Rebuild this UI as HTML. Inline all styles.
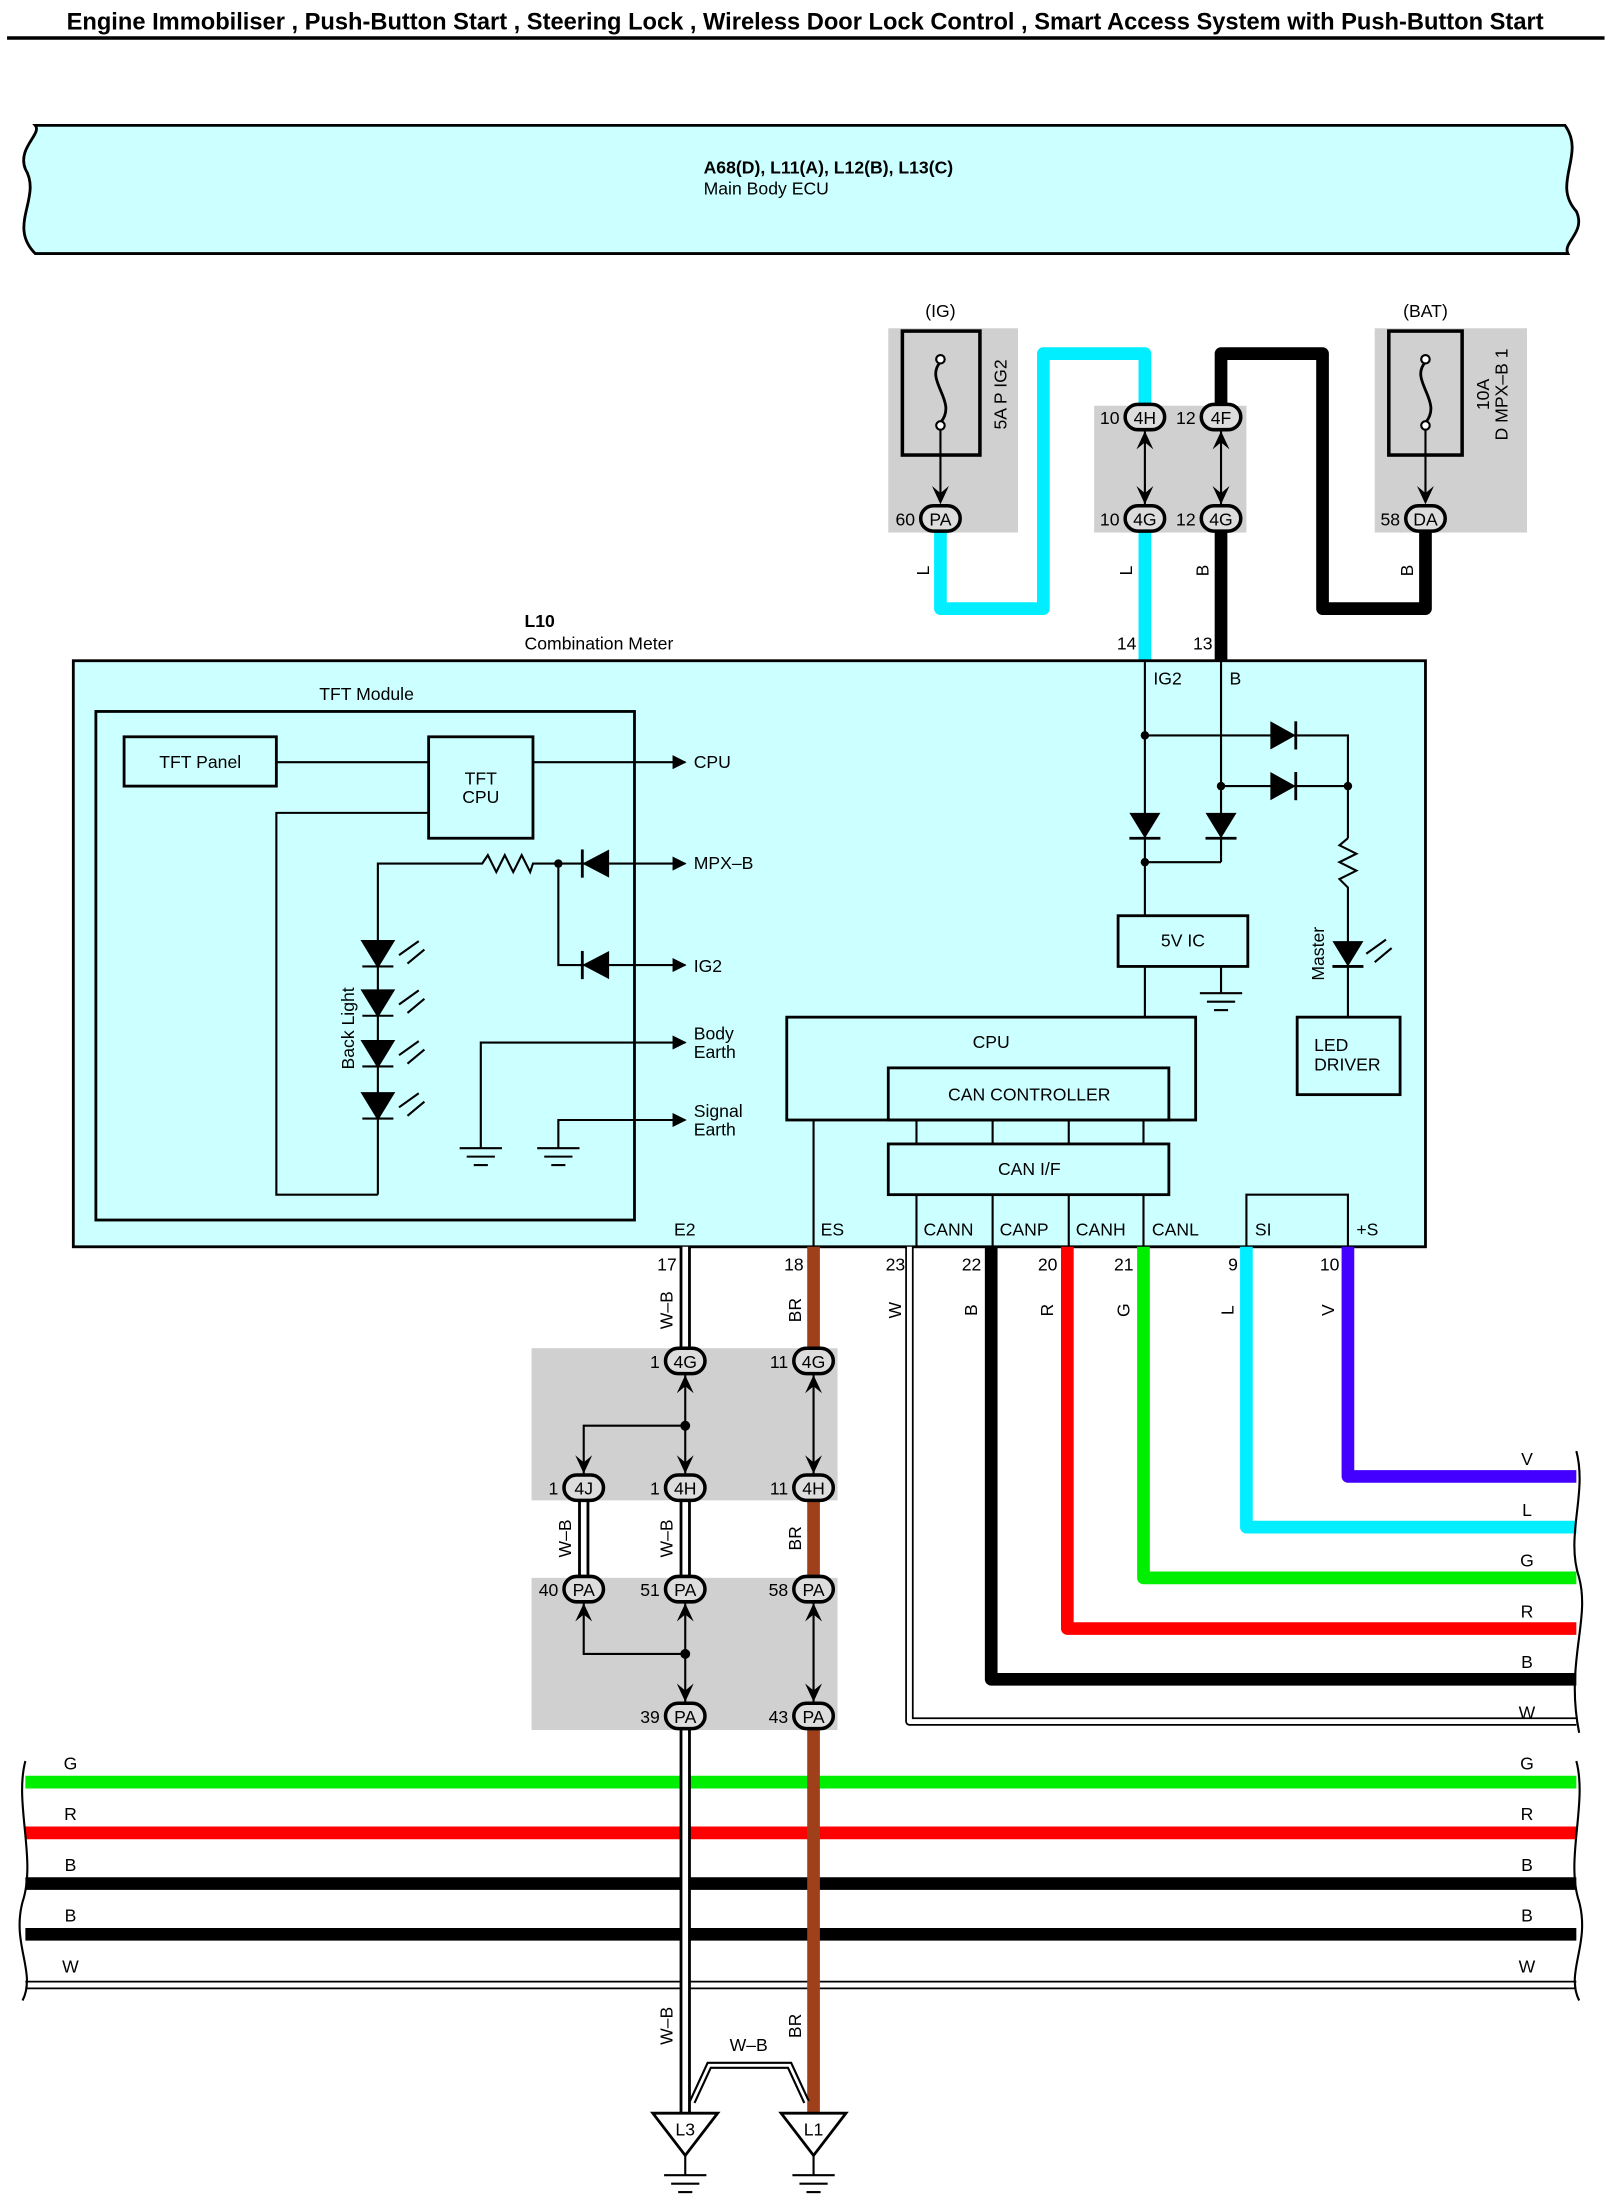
<!DOCTYPE html>
<html><head><meta charset="utf-8"><style>
html,body{margin:0;padding:0;background:#fff}
svg{display:block}
text{font-family:"Liberation Sans",sans-serif;font-size:12.5px;fill:#000}
.c{text-anchor:middle}
.r{text-anchor:end}
</style></head><body>
<svg width="1613" height="2209" viewBox="0 0 1144 1568" preserveAspectRatio="none" xmlns="http://www.w3.org/2000/svg">
<defs>
<marker id="ar" markerWidth="10" markerHeight="10" refX="9" refY="5" orient="auto" markerUnits="userSpaceOnUse"><path d="M0,0 L10,5 L0,10 Z" fill="#000"/></marker>
</defs>
<!-- title -->
<text x="571" y="21" class="c" style="font-size:16.8px;font-weight:bold">Engine Immobiliser , Push-Button Start , Steering Lock , Wireless Door Lock Control , Smart Access System with Push-Button Start</text>
<line x1="5" y1="27" x2="1138" y2="27" stroke="#000" stroke-width="2.5"/>

<!-- ECU banner -->
<path d="M25,89 L1110,89 C1125,110 1100,130 1118,150 C1125,165 1108,172 1112,180 L25,180 C5,160 30,140 18,120 C12,105 30,95 25,89 Z" fill="#ccffff" stroke="#000" stroke-width="2"/>
<text x="499" y="123" style="font-weight:bold">A68(D), L11(A), L12(B), L13(C)</text>
<text x="499" y="138">Main Body ECU</text>

<!-- fuse boxes -->
<rect x="630" y="233" width="92" height="145" fill="#d0d0d0"/>
<rect x="776" y="288" width="108" height="90" fill="#d0d0d0"/>
<rect x="975" y="233" width="108" height="145" fill="#d0d0d0"/>
<rect x="640" y="235" width="55" height="88" fill="#d0d0d0" stroke="#000" stroke-width="2.5"/>
<rect x="985" y="235" width="52" height="88" fill="#d0d0d0" stroke="#000" stroke-width="2.5"/>
<text x="667" y="225" class="c">(IG)</text>
<text x="1011" y="225" class="c">(BAT)</text>
<path d="M667,257 C655,270 680,285 667,300 M1011,257 C999,270 1024,285 1011,300" fill="none" stroke="#000" stroke-width="2"/>
<circle cx="667" cy="255" r="3" fill="#fff" stroke="#000" stroke-width="1.5"/><circle cx="667" cy="302" r="3" fill="#fff" stroke="#000" stroke-width="1.5"/>
<circle cx="1011" cy="255" r="3" fill="#fff" stroke="#000" stroke-width="1.5"/><circle cx="1011" cy="302" r="3" fill="#fff" stroke="#000" stroke-width="1.5"/>
<line x1="667" y1="305" x2="667" y2="356" stroke="#000" stroke-width="1.5"/>
<line x1="1011" y1="305" x2="1011" y2="356" stroke="#000" stroke-width="1.5"/>
<path d="M661,345 L667,358 L673,345 L667,350 Z M1005,345 L1011,358 L1017,345 L1011,350 Z" fill="#000"/>
<text transform="translate(714,280) rotate(-90)" class="c">5A P IG2</text>
<text transform="translate(1056,280) rotate(-90)" class="c">10A</text>
<text transform="translate(1069,280) rotate(-90)" class="c">D MPX–B 1</text>

<!-- top wires -->
<polyline points="667,378 667,432 740,432 740,251 812,251 812,288" fill="none" stroke="#00eeff" stroke-width="9" stroke-linejoin="round"/>
<line x1="812" y1="378" x2="812" y2="469" stroke="#00eeff" stroke-width="9"/>
<polyline points="866,288 866,251 938,251 938,432 1011,432 1011,378" fill="none" stroke="#000" stroke-width="9" stroke-linejoin="round"/>
<line x1="866" y1="378" x2="866" y2="469" stroke="#000" stroke-width="9"/>
<line x1="812" y1="306" x2="812" y2="358" stroke="#000" stroke-width="1.5"/>
<line x1="866" y1="306" x2="866" y2="358" stroke="#000" stroke-width="1.5"/>
<path d="M806,319 L812,306 L818,319 L812,314 Z M860,319 L866,306 L872,319 L866,314 Z M806,345 L812,358 L818,345 L812,350 Z M860,345 L866,358 L872,345 L866,350 Z" fill="#000"/>
<g stroke="#000" stroke-width="2.5" fill="#ddd">
<rect x="653" y="359" width="28" height="18" rx="9"/>
<rect x="798" y="287" width="28" height="18" rx="9"/>
<rect x="852" y="287" width="28" height="18" rx="9"/>
<rect x="798" y="359" width="28" height="18" rx="9"/>
<rect x="852" y="359" width="28" height="18" rx="9"/>
<rect x="997" y="359" width="28" height="18" rx="9"/>
</g>
<text x="667" y="373" class="c">PA</text><text x="649" y="373" class="r">60</text>
<text x="812" y="301" class="c">4H</text><text x="794" y="301" class="r">10</text>
<text x="866" y="301" class="c">4F</text><text x="848" y="301" class="r">12</text>
<text x="812" y="373" class="c">4G</text><text x="794" y="373" class="r">10</text>
<text x="866" y="373" class="c">4G</text><text x="848" y="373" class="r">12</text>
<text x="1011" y="373" class="c">DA</text><text x="993" y="373" class="r">58</text>
<text transform="translate(659,405) rotate(-90)" class="c">L</text>
<text transform="translate(803,405) rotate(-90)" class="c">L</text>
<text transform="translate(857,405) rotate(-90)" class="c">B</text>
<text transform="translate(1002,405) rotate(-90)" class="c">B</text>

<text x="372" y="445" style="font-weight:bold">L10</text>
<text x="372" y="461">Combination Meter</text>
<text x="806" y="461" class="r">14</text>
<text x="860" y="461" class="r">13</text>

<!-- main box -->
<rect x="52" y="469" width="959" height="416" fill="#ccffff" stroke="#000" stroke-width="2"/>
<text x="818" y="486">IG2</text><text x="872" y="486">B</text>
<text x="260" y="497" class="c">TFT Module</text>
<rect x="68" y="505" width="382" height="361" fill="none" stroke="#000" stroke-width="2"/>
<rect x="88" y="523" width="108" height="35" fill="none" stroke="#000" stroke-width="2"/>
<text x="142" y="545" class="c">TFT Panel</text>
<rect x="304" y="523" width="74" height="72" fill="none" stroke="#000" stroke-width="2"/>
<text x="341" y="557" class="c">TFT</text><text x="341" y="570" class="c">CPU</text>
<g stroke="#000" stroke-width="1.5" fill="none">
<line x1="196" y1="541" x2="304" y2="541"/>
<polyline points="304,577 196,577 196,848 268,848"/>
<line x1="378" y1="541" x2="486" y2="541" marker-end="url(#ar)"/>
<polyline points="268,848 268,613 342,613 346,607 352,619 358,607 364,619 370,607 376,619 378,613 432,613"/>
<line x1="432" y1="613" x2="486" y2="613" marker-end="url(#ar)"/>
<polyline points="396,613 396,685 432,685"/>
<line x1="432" y1="685" x2="486" y2="685" marker-end="url(#ar)"/>
<polyline points="341,815 341,740 486,740" marker-end="url(#ar)"/>
<polyline points="396,815 396,795 486,795" marker-end="url(#ar)"/>
<line x1="326" y1="815" x2="356" y2="815"/><line x1="331" y1="821" x2="351" y2="821"/><line x1="336" y1="827" x2="346" y2="827"/>
<line x1="381" y1="815" x2="411" y2="815"/><line x1="386" y1="821" x2="406" y2="821"/><line x1="391" y1="827" x2="401" y2="827"/>
</g>
<circle cx="396" cy="613" r="3" fill="#000"/>
<path d="M413,613 L432,603 L432,623 Z M413,685 L432,675 L432,695 Z" fill="#000"/>
<line x1="413" y1="603" x2="413" y2="623" stroke="#000" stroke-width="2"/>
<line x1="413" y1="675" x2="413" y2="695" stroke="#000" stroke-width="2"/>
<text x="492" y="545">CPU</text>
<text x="492" y="617">MPX–B</text>
<text x="492" y="690">IG2</text>
<text x="492" y="738">Body</text><text x="492" y="751">Earth</text>
<text x="492" y="793">Signal</text><text x="492" y="806">Earth</text>
<!-- LEDs -->
<g fill="#000" stroke="#000" stroke-width="1.5">
<path d="M257,668 L279,668 L268,686 Z"/><line x1="257" y1="686" x2="279" y2="686"/>
<path d="M257,703 L279,703 L268,721 Z"/><line x1="257" y1="721" x2="279" y2="721"/>
<path d="M257,739 L279,739 L268,757 Z"/><line x1="257" y1="757" x2="279" y2="757"/>
<path d="M257,776 L279,776 L268,794 Z"/><line x1="257" y1="794" x2="279" y2="794"/>
<path d="M283,678 L297,668 M289,684 L301,674 M283,713 L297,703 M289,719 L301,709 M283,749 L297,739 M289,755 L301,745 M283,786 L297,776 M289,792 L301,782" fill="none"/>
</g>
<text transform="translate(251,730) rotate(-90)" class="c">Back Light</text>

<!-- right circuitry -->
<g stroke="#000" stroke-width="1.5" fill="none">
<line x1="812" y1="469" x2="812" y2="650"/>
<line x1="866" y1="469" x2="866" y2="612"/>
<line x1="812" y1="612" x2="866" y2="612"/>
<polyline points="812,522 956,522 956,595"/>
<line x1="866" y1="558" x2="956" y2="558"/>
<polyline points="956,595 950,600 962,606 950,612 962,618 950,624 956,630 956,722"/>
<line x1="812" y1="686" x2="812" y2="722"/>
<polyline points="885,686 866,686 866,705"/>
<line x1="851" y1="705" x2="881" y2="705"/><line x1="856" y1="711" x2="876" y2="711"/><line x1="861" y1="717" x2="871" y2="717"/>
<path d="M969,677 L983,667 M975,683 L987,673"/>
</g>
<g fill="#000">
<circle cx="812" cy="522" r="3"/><circle cx="866" cy="558" r="3"/><circle cx="812" cy="612" r="3"/><circle cx="956" cy="558" r="3"/>
<path d="M801,577 L823,577 L812,595 Z M855,577 L877,577 L866,595 Z M901,512 L901,532 L919,522 Z M901,548 L901,568 L919,558 Z M945,668 L967,668 L956,686 Z"/>
</g>
<g stroke="#000" stroke-width="2">
<line x1="801" y1="595" x2="823" y2="595"/><line x1="855" y1="595" x2="877" y2="595"/>
<line x1="919" y1="512" x2="919" y2="532"/><line x1="919" y1="548" x2="919" y2="568"/>
<line x1="945" y1="686" x2="967" y2="686"/>
</g>
<text transform="translate(939,677) rotate(-90)" class="c">Master</text>
<rect x="793" y="650" width="92" height="36" fill="none" stroke="#000" stroke-width="2"/>
<text x="839" y="672" class="c">5V IC</text>
<rect x="920" y="722" width="73" height="55" fill="none" stroke="#000" stroke-width="2"/>
<text x="932" y="746">LED</text><text x="932" y="760">DRIVER</text>
<rect x="558" y="722" width="290" height="73" fill="none" stroke="#000" stroke-width="2"/>
<text x="703" y="744" class="c">CPU</text>
<rect x="630" y="758" width="199" height="37" fill="none" stroke="#000" stroke-width="2"/>
<text x="730" y="781" class="c">CAN CONTROLLER</text>
<rect x="630" y="812" width="199" height="36" fill="none" stroke="#000" stroke-width="2"/>
<text x="730" y="834" class="c">CAN I/F</text>
<g stroke="#000" stroke-width="1.5">
<line x1="650" y1="795" x2="650" y2="812"/><line x1="704" y1="795" x2="704" y2="812"/><line x1="758" y1="795" x2="758" y2="812"/><line x1="811" y1="795" x2="811" y2="812"/>
<line x1="650" y1="848" x2="650" y2="885"/><line x1="704" y1="848" x2="704" y2="885"/><line x1="758" y1="848" x2="758" y2="885"/><line x1="811" y1="848" x2="811" y2="885"/>
<line x1="577" y1="795" x2="577" y2="885"/>
</g>
<rect x="884" y="848" width="72" height="37" fill="none" stroke="#000" stroke-width="1.5"/>
<text x="478" y="877">E2</text><text x="582" y="877">ES</text>
<text x="655" y="877">CANN</text><text x="709" y="877">CANP</text><text x="763" y="877">CANH</text><text x="817" y="877">CANL</text>
<text x="890" y="877">SI</text><text x="962" y="877">+S</text>

<!-- pins -->
<text x="480" y="902" class="r">17</text><text x="570" y="902" class="r">18</text><text x="642" y="902" class="r">23</text>
<text x="696" y="902" class="r">22</text><text x="750" y="902" class="r">20</text><text x="804" y="902" class="r">21</text>
<text x="878" y="902" class="r">9</text><text x="950" y="902" class="r">10</text>

<!-- bus lines -->
<g fill="none" stroke-linejoin="round">
<polyline points="645,885 645,1222 1118,1222" stroke="#000" stroke-width="6"/>
<polyline points="645,885 645,1222 1118,1222" stroke="#fff" stroke-width="3.5"/>
<polyline points="703,885 703,1192 1118,1192" stroke="#000" stroke-width="9"/>
<polyline points="757,885 757,1156 1118,1156" stroke="#ff0000" stroke-width="9"/>
<polyline points="811,885 811,1120 1118,1120" stroke="#00ee00" stroke-width="9"/>
<polyline points="884,885 884,1084 1118,1084" stroke="#00eeff" stroke-width="9"/>
<polyline points="956,885 956,1048 1118,1048" stroke="#4400ff" stroke-width="9"/>
</g>
<text transform="translate(639,930) rotate(-90)" class="c">W</text>
<text transform="translate(693,930) rotate(-90)" class="c">B</text>
<text transform="translate(747,930) rotate(-90)" class="c">R</text>
<text transform="translate(801,930) rotate(-90)" class="c">G</text>
<text transform="translate(875,930) rotate(-90)" class="c">L</text>
<text transform="translate(946,930) rotate(-90)" class="c">V</text>
<text x="1083" y="1040" class="c">V</text><text x="1083" y="1076" class="c">L</text><text x="1083" y="1112" class="c">G</text>
<text x="1083" y="1148" class="c">R</text><text x="1083" y="1184" class="c">B</text><text x="1083" y="1220" class="c">W</text>

<!-- junction gray boxes -->
<rect x="377" y="957" width="217" height="108" fill="#d0d0d0"/>
<rect x="377" y="1120" width="217" height="108" fill="#d0d0d0"/>

<!-- horizontal buses -->
<g stroke-width="9">
<line x1="18" y1="1265" x2="1118" y2="1265" stroke="#00ee00"/>
<line x1="18" y1="1301" x2="1118" y2="1301" stroke="#ff0000"/>
<line x1="18" y1="1337" x2="1118" y2="1337" stroke="#000"/>
<line x1="18" y1="1373" x2="1118" y2="1373" stroke="#000"/>
</g>
<line x1="18" y1="1409" x2="1118" y2="1409" stroke="#000" stroke-width="6"/>
<line x1="18" y1="1409" x2="1118" y2="1409" stroke="#fff" stroke-width="3.5"/>
<text x="50" y="1256" class="c">G</text><text x="50" y="1292" class="c">R</text><text x="50" y="1328" class="c">B</text><text x="50" y="1364" class="c">B</text><text x="50" y="1400" class="c">W</text>
<text x="1083" y="1256" class="c">G</text><text x="1083" y="1292" class="c">R</text><text x="1083" y="1328" class="c">B</text><text x="1083" y="1364" class="c">B</text><text x="1083" y="1400" class="c">W</text>

<!-- W-B and BR vertical wires -->
<g>
<line x1="486" y1="885" x2="486" y2="957" stroke="#000" stroke-width="8"/><line x1="486" y1="885" x2="486" y2="957" stroke="#fff" stroke-width="4"/>
<line x1="486" y1="1065" x2="486" y2="1120" stroke="#000" stroke-width="8"/><line x1="486" y1="1065" x2="486" y2="1120" stroke="#fff" stroke-width="4"/>
<line x1="414" y1="1065" x2="414" y2="1120" stroke="#000" stroke-width="8"/><line x1="414" y1="1065" x2="414" y2="1120" stroke="#fff" stroke-width="4"/>
<line x1="486" y1="1228" x2="486" y2="1500" stroke="#000" stroke-width="8"/><line x1="486" y1="1228" x2="486" y2="1500" stroke="#fff" stroke-width="4"/>
<line x1="577" y1="885" x2="577" y2="957" stroke="#a0401a" stroke-width="9"/>
<line x1="577" y1="1065" x2="577" y2="1120" stroke="#a0401a" stroke-width="9"/>
<line x1="577" y1="1228" x2="577" y2="1500" stroke="#a0401a" stroke-width="9"/>
</g>
<text transform="translate(477,930) rotate(-90)" class="c">W–B</text>
<text transform="translate(568,930) rotate(-90)" class="c">BR</text>
<text transform="translate(405,1092) rotate(-90)" class="c">W–B</text>
<text transform="translate(477,1092) rotate(-90)" class="c">W–B</text>
<text transform="translate(568,1092) rotate(-90)" class="c">BR</text>
<text transform="translate(477,1438) rotate(-90)" class="c">W–B</text>
<text transform="translate(568,1438) rotate(-90)" class="c">BR</text>
<text x="531" y="1456" class="c">W–B</text>
<polyline points="491,1492 503,1466 560,1466 572,1492" fill="none" stroke="#000" stroke-width="5"/>
<polyline points="491,1492 503,1466 560,1466 572,1492" fill="none" stroke="#fff" stroke-width="2"/>

<!-- junction internal lines -->
<g stroke="#000" stroke-width="1.5" fill="none">
<line x1="486" y1="976" x2="486" y2="1046"/>
<polyline points="486,1012 414,1012 414,1046"/>
<line x1="577" y1="976" x2="577" y2="1046"/>
<line x1="486" y1="1138" x2="486" y2="1208"/>
<polyline points="414,1138 414,1174 486,1174"/>
<line x1="577" y1="1138" x2="577" y2="1208"/>
</g>
<g fill="#000">
<circle cx="486" cy="1012" r="3.5"/><circle cx="486" cy="1174" r="3.5"/>
<path d="M480,989 L486,976 L492,989 L486,984 Z M571,989 L577,976 L583,989 L577,984 Z
M480,1033 L486,1046 L492,1033 L486,1038 Z M408,1033 L414,1046 L420,1033 L414,1038 Z M571,1033 L577,1046 L583,1033 L577,1038 Z
M480,1151 L486,1138 L492,1151 L486,1146 Z M408,1151 L414,1138 L420,1151 L414,1146 Z M571,1151 L577,1138 L583,1151 L577,1146 Z
M480,1195 L486,1208 L492,1195 L486,1200 Z M571,1195 L577,1208 L583,1195 L577,1200 Z"/>
</g>
<g stroke="#000" stroke-width="2.5" fill="#ddd">
<rect x="472" y="957" width="28" height="18" rx="9"/><rect x="563" y="957" width="28" height="18" rx="9"/>
<rect x="400" y="1047" width="28" height="18" rx="9"/><rect x="472" y="1047" width="28" height="18" rx="9"/><rect x="563" y="1047" width="28" height="18" rx="9"/>
<rect x="400" y="1119" width="28" height="18" rx="9"/><rect x="472" y="1119" width="28" height="18" rx="9"/><rect x="563" y="1119" width="28" height="18" rx="9"/>
<rect x="472" y="1209" width="28" height="18" rx="9"/><rect x="563" y="1209" width="28" height="18" rx="9"/>
</g>
<text x="486" y="971" class="c">4G</text><text x="468" y="971" class="r">1</text>
<text x="577" y="971" class="c">4G</text><text x="559" y="971" class="r">11</text>
<text x="414" y="1061" class="c">4J</text><text x="396" y="1061" class="r">1</text>
<text x="486" y="1061" class="c">4H</text><text x="468" y="1061" class="r">1</text>
<text x="577" y="1061" class="c">4H</text><text x="559" y="1061" class="r">11</text>
<text x="414" y="1133" class="c">PA</text><text x="396" y="1133" class="r">40</text>
<text x="486" y="1133" class="c">PA</text><text x="468" y="1133" class="r">51</text>
<text x="577" y="1133" class="c">PA</text><text x="559" y="1133" class="r">58</text>
<text x="486" y="1223" class="c">PA</text><text x="468" y="1223" class="r">39</text>
<text x="577" y="1223" class="c">PA</text><text x="559" y="1223" class="r">43</text>

<!-- grounds -->
<g stroke="#000" stroke-width="2" fill="#fff">
<path d="M463,1500 L509,1500 L486,1530 Z"/>
<path d="M554,1500 L600,1500 L577,1530 Z"/>
</g>
<g stroke="#000" stroke-width="1.5">
<line x1="486" y1="1530" x2="486" y2="1544"/><line x1="471" y1="1544" x2="501" y2="1544"/><line x1="476" y1="1550" x2="496" y2="1550"/><line x1="481" y1="1556" x2="491" y2="1556"/>
<line x1="577" y1="1530" x2="577" y2="1544"/><line x1="562" y1="1544" x2="592" y2="1544"/><line x1="567" y1="1550" x2="587" y2="1550"/><line x1="572" y1="1556" x2="582" y2="1556"/>
</g>
<text x="486" y="1516" class="c">L3</text><text x="577" y="1516" class="c">L1</text>

<!-- wavy edges -->
<g stroke="#000" stroke-width="1.5" fill="none">
<path d="M1118,1030 C1126,1060 1110,1090 1120,1120 C1128,1150 1110,1180 1120,1230"/>
<path d="M1118,1250 C1126,1280 1110,1320 1120,1350 C1128,1380 1110,1400 1120,1420"/>
<path d="M18,1250 C10,1280 26,1320 16,1350 C8,1380 26,1400 16,1420"/>
</g>
</svg>
</body></html>
